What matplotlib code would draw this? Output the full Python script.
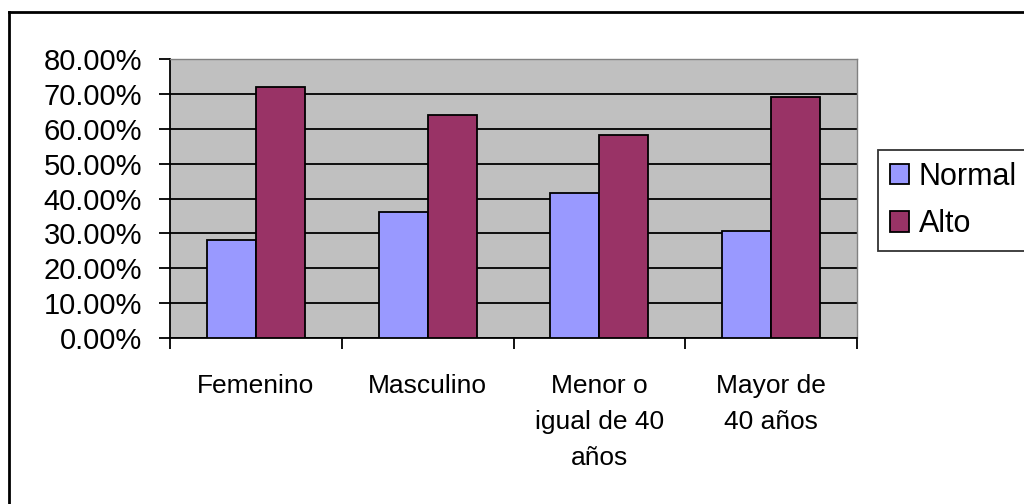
import matplotlib
matplotlib.use("Agg")
import matplotlib.pyplot as plt
import numpy as np
from matplotlib.lines import Line2D
from matplotlib.ticker import FuncFormatter

categories = ["Femenino", "Masculino", "Menor o\nigual de 40\naños", "Mayor de\n40 años"]
normal = [28.0, 36.0, 41.7, 30.8]
alto = [72.0, 64.0, 58.3, 69.2]
series_names = ["Normal", "Alto"]

plt.rcParams['font.family'] = ['Liberation Sans', 'DejaVu Sans']

fig = plt.figure(figsize=(10.24, 5.04), dpi=100)
ax = fig.add_axes([170/1024, 1 - 338/504, 687/1024, 279/504])
ax.set_facecolor('#C0C0C0')

x = np.arange(len(categories))
w = 1 / 3.5
ax.bar(x - w/2, normal, w, color='#9999FF', edgecolor='black', linewidth=1.3,
       label=series_names[0], zorder=3)
ax.bar(x + w/2, alto, w, color='#993366', edgecolor='black', linewidth=1.3,
       label=series_names[1], zorder=3)

ax.set_xlim(-0.5, len(categories) - 0.5)
ax.set_ylim(0, 80)
ax.set_yticks(np.arange(0, 81, 10))
ax.yaxis.set_major_formatter(FuncFormatter(lambda v, p: f"{v:.2f}%"))
ax.grid(axis='y', color='black', linewidth=1.3, zorder=1)
ax.set_axisbelow(True)

# ticks between categories on x
ax.set_xticks(np.arange(-0.5, len(categories), 1))
ax.set_xticklabels([])
ax.set_xticks(x, minor=True)
ax.set_xticklabels(categories, minor=True, fontsize=19, linespacing=1.62)
ax.tick_params(axis='x', which='minor', length=0, pad=26)
ax.tick_params(axis='x', which='major', length=8, width=1.3, direction='out')
ax.tick_params(axis='y', length=8, width=1.3, direction='out', pad=12, labelsize=21)

for s in ['top', 'right']:
    ax.spines[s].set_color('#808080')
    ax.spines[s].set_linewidth(1)
for s in ['left', 'bottom']:
    ax.spines[s].set_color('black')
    ax.spines[s].set_linewidth(1.3)

leg = fig.legend(loc='upper left', bbox_to_anchor=(878/1024, 1 - 150/504),
                 fontsize=22, frameon=True, fancybox=False, borderaxespad=0,
                 handlelength=0.65, handleheight=0.65, handletextpad=0.3,
                 borderpad=0.38, labelspacing=0.58)
leg.get_frame().set_edgecolor('black')
leg.get_frame().set_linewidth(1.3)
for h in leg.legend_handles:
    h.set_linewidth(1.3)

# outer chart border (top and left visible)
fig.add_artist(Line2D([9/1024, 9/1024], [0, 1 - 12/504], color='black', linewidth=2,
                      transform=fig.transFigure))
fig.add_artist(Line2D([9/1024, 1], [1 - 12/504, 1 - 12/504], color='black', linewidth=2,
                      transform=fig.transFigure))

fig.savefig('out.png', dpi=100, facecolor='white')
